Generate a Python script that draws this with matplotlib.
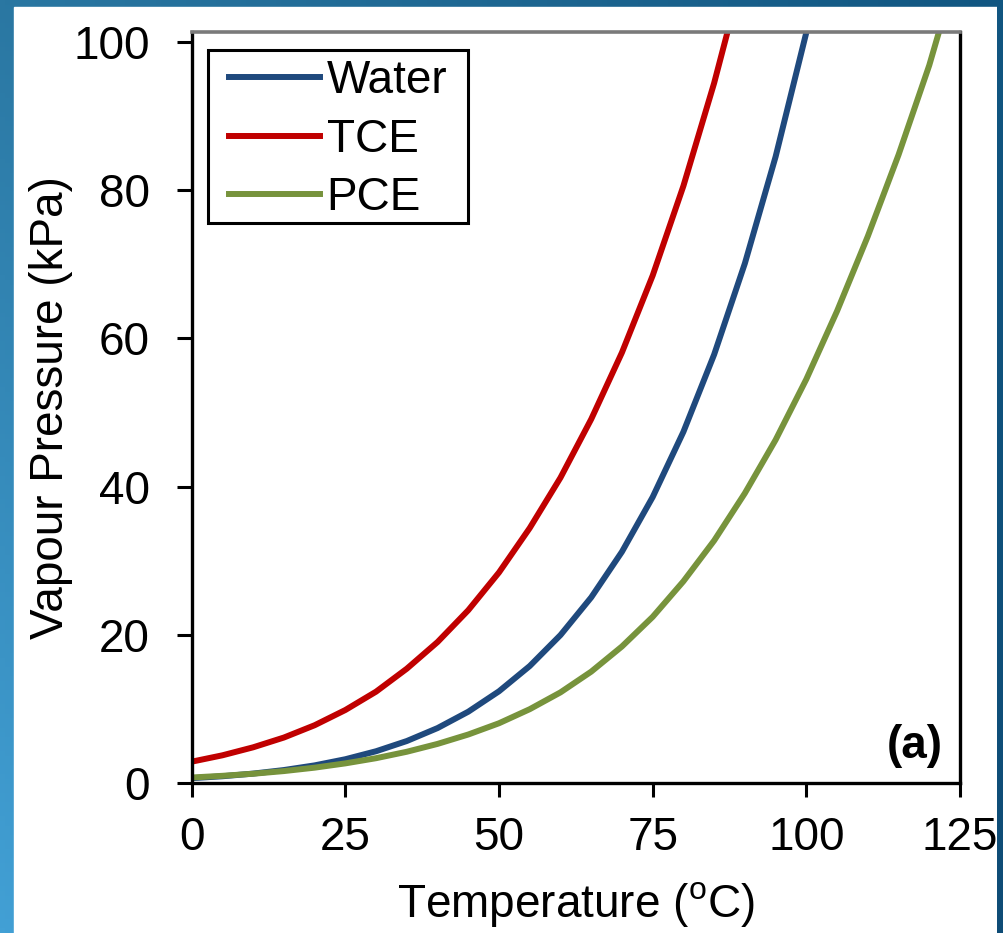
import numpy as np
import matplotlib
matplotlib.use("Agg")
import matplotlib.pyplot as plt
from matplotlib.patches import Rectangle

# ---- data ----
water_t = [0, 5, 10, 15, 20, 25, 30, 35, 40, 45, 50, 55, 60, 65, 70, 75, 80, 85, 90, 95, 100, 101]
water_p = [0.61, 0.87, 1.23, 1.71, 2.34, 3.17, 4.25, 5.63, 7.38, 9.59, 12.35, 15.76, 19.94,
           25.03, 31.19, 38.58, 47.39, 57.83, 70.14, 84.55, 101.33, 105.0]

tce_t = [0, 5, 10, 15, 20, 25, 30, 35, 40, 45, 50, 55, 60, 65, 70, 75, 80, 85, 88]
tce_p = [2.84, 3.70, 4.78, 6.10, 7.76, 9.82, 12.3, 15.4, 19.0, 23.3, 28.4, 34.4, 41.2,
         49.1, 58.1, 68.5, 80.6, 94.5, 104.0]

pce_t = [0, 5, 10, 15, 20, 25, 30, 35, 40, 45, 50, 55, 60, 65, 70, 75, 80, 85, 90, 95,
         100, 105, 110, 115, 120, 122]
pce_p = [0.70, 0.93, 1.21, 1.57, 2.03, 2.61, 3.31, 4.18, 5.24, 6.51, 8.03, 9.93, 12.2,
         15.0, 18.4, 22.4, 27.2, 32.7, 39.1, 46.3, 54.5, 63.7, 73.8, 84.8, 96.9, 102.6]

series_names = ["Water", "TCE", "PCE"]
series_colors = ["#1f497d", "#c00000", "#77933c"]

x_ticks = [0, 25, 50, 75, 100, 125]
y_ticks = [0, 20, 40, 60, 80, 100]

plt.rcParams['font.family'] = ['Liberation Sans', 'DejaVu Sans']
plt.rcParams['mathtext.fontset'] = 'custom'
plt.rcParams['mathtext.rm'] = 'Liberation Sans'

W, H = 1004, 933
fig = plt.figure(figsize=(W / 100, H / 100), dpi=100)

# background gradient
def corner_grad(nx, ny, tl, tr, bl, br):
    tl, tr, bl, br = [np.array(matplotlib.colors.to_rgb(c)) for c in (tl, tr, bl, br)]
    u = np.linspace(0, 1, nx)[None, :, None]
    v = np.linspace(0, 1, ny)[:, None, None]
    top = tl * (1 - u) + tr * u
    bot = bl * (1 - u) + br * u
    return top * (1 - v) + bot * v

img = corner_grad(200, 200, "#2a77a2", "#115681", "#42a0d5", "#0e4c76")
ax_bg = fig.add_axes([0, 0, 1, 1], zorder=-5)
ax_bg.imshow(img, extent=[0, 1, 0, 1], aspect='auto', origin='upper')
ax_bg.add_patch(Rectangle((14 / W, 0), (997 - 14) / W, 1 - 7 / H, color='white',
                          transform=ax_bg.transAxes))
ax_bg.set_xlim(0, 1); ax_bg.set_ylim(0, 1)
ax_bg.axis('off')

# main axes
left, right, top, bottom = 191.7, 960.0, 32.0, 782.7
ax = fig.add_axes([left / W, 1 - bottom / H, (right - left) / W, (bottom - top) / H])
ymax = (bottom - top) / ((bottom - 42.3) / 100.0)

for t, p, name, col in [(water_t, water_p, series_names[0], series_colors[0]),
                        (tce_t, tce_p, series_names[1], series_colors[1]),
                        (pce_t, pce_p, series_names[2], series_colors[2])]:
    ax.plot(t, p, color=col, lw=4.3, label=name, solid_joinstyle='round')

ax.set_xlim(0, 125)
ax.set_ylim(0, ymax)
ax.set_xticks(x_ticks)
ax.set_yticks(y_ticks)
ax.tick_params(axis='both', direction='out', labelsize=33, width=2.2, color='black')
ax.tick_params(axis='y', length=11, pad=19)
ax.tick_params(axis='x', length=10, pad=14)

for s in ['left', 'bottom', 'right']:
    ax.spines[s].set_linewidth(2.4)
    ax.spines[s].set_color('black')
ax.spines['top'].set_linewidth(2.6)
ax.spines['top'].set_color('#7a7a7a')

ax.set_ylabel("Vapour Pressure (kPa)", fontsize=33)
ax.set_xlabel(r"Temperature ($\mathregular{^o}$C)", fontsize=33)
ax.yaxis.set_label_coords(-0.1545, 0.5)
ax.xaxis.set_label_coords(0.5, -0.129)

ax.text(0.9775, 0.0196, "(a)", transform=ax.transAxes, ha='right', va='bottom',
        fontsize=33, fontweight='bold')

# legend: frame drawn separately
ax.add_patch(Rectangle((0.0212, 0.7456), 0.3384, 0.976 - 0.7456, transform=ax.transAxes,
                       facecolor='white', edgecolor='black', lw=2.2, zorder=4))
leg = ax.legend(loc='upper left', bbox_to_anchor=(0.0485, 0.9634), borderaxespad=0,
                fontsize=33, handlelength=1.98, handletextpad=0.15, labelspacing=0.31,
                borderpad=0, frameon=False)
leg.set_zorder(5)

# right strip drawn on top (clips the "125" label)
ax_r = fig.add_axes([997 / W, 0, 1 - 997 / W, 1], zorder=10)
ax_r.imshow(img[:, -3:], extent=[0, 1, 0, 1], aspect='auto', origin='upper')
ax_r.axis('off')

fig.savefig("out.png", dpi=100)
